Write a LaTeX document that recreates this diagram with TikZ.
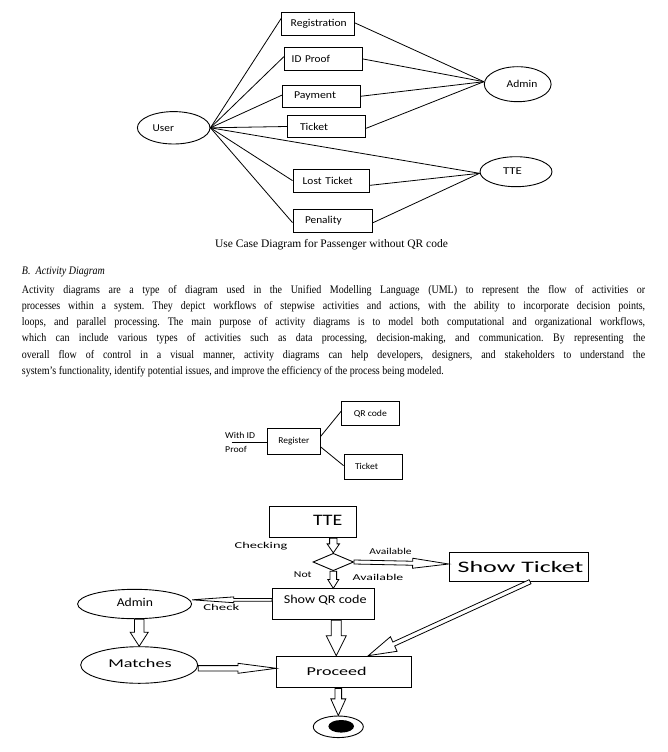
\documentclass[tikz,border=0pt]{standalone}
\usepackage{fontspec}
\usepackage{graphicx}
\setmainfont{Liberation Serif}
\newfontfamily\dfont{Carlito}
\usetikzlibrary{calc,shapes.geometric}
\frenchspacing
\newcommand\fw[2]{\resizebox{#1pt}{\height}{#2}}
\newcommand\pline[1]{\scalebox{0.87}[1]{\makebox[716.4pt][s]{#1}}}
% block arrow: #1 start, #2 end, #3 shaft half width, #4 head half width, #5 head length
\newcommand\barrow[5]{%
  \coordinate (bah) at ($(#2)!#5pt!(#1)$);
  \draw[blockarrow] ($(#1)!#3pt!90:(#2)$) -- ($(bah)!#3pt!90:(#2)$) -- ($(bah)!#4pt!90:(#2)$) -- (#2)
    -- ($(bah)!#4pt!-90:(#2)$) -- ($(bah)!#3pt!-90:(#2)$) -- ($(#1)!#3pt!-90:(#2)$) -- cycle;}
\begin{document}
\begin{tikzpicture}[x=1pt,y=-1pt,
 uline/.style={line width=0.8pt, draw=black},
 ubox/.style={draw=black, line width=0.9pt, inner ysep=0pt, align=left, font=\dfont\fontsize{10.5}{12}\selectfont},
 uell/.style={draw=black, line width=0.9pt, ellipse, inner sep=0pt},
 utext/.style={inner sep=0pt, font=\dfont\fontsize{10.5}{12}\selectfont},
 mbox/.style={draw=black, line width=0.8pt, inner sep=0pt, font=\dfont\fontsize{9}{11}\selectfont},
 mtext/.style={inner sep=0pt, font=\dfont\fontsize{9}{11}\selectfont},
 bbox/.style={draw=black, line width=0.9pt, inner sep=0pt},
 btext/.style={inner sep=0pt, font=\dfont\fontsize{12}{14}\selectfont},
 bsmall/.style={inner sep=0pt, font=\dfont\fontsize{9}{11}\selectfont},
 bbig/.style={inner sep=0pt, font=\dfont\fontsize{16}{19}\selectfont},
 blockarrow/.style={draw=black, fill=white, line width=0.8pt, line join=miter},
]
\useasboundingbox (0,0) rectangle (668,752);
\fill[white] (0,0) rectangle (668,752);

% ---------- Use case diagram ----------
\node[uell, minimum width=72.6, minimum height=32.4] (user) at (173.7,127.8) {};
\node[utext] (userT) at (163.3,127.8) {\fw{21.3}{User}};
\node[uell, minimum width=66.8, minimum height=35] (admU) at (517.7,84.2) {};
\node[utext] (admUT) at (522,84) {\fw{30.7}{Admin}};
\node[uell, minimum width=72, minimum height=30] (tteU) at (516,171.7) {};
\node[utext] (tteUT) at (512.5,171) {\fw{19}{TTE}};

\node[ubox, minimum height=22.6, text width=54.3pt, inner xsep=9pt] (reg) at (317.85,24) {\fw{56}{Registration}};
\node[ubox, minimum height=22.6, text width=63.6pt, inner xsep=7.4pt] (idp) at (323.5,59) {\fw{38.3}{ID Proof}};
\node[ubox, minimum height=22, text width=54.7pt, inner xsep=11.3pt] (pay) at (321.35,96.3) {\fw{42}{Payment}};
\node[ubox, minimum height=21.6, text width=53pt, inner xsep=12.7pt] (tkt) at (326.5,126.5) {\fw{28}{Ticket}};
\node[ubox, minimum height=22.7, text width=56.9pt, inner xsep=9.7pt] (lost) at (331.15,180.65) {\fw{50}{Lost Ticket}};
\node[ubox, minimum height=22.7, text width=55.7pt, inner xsep=12pt] (pen) at (332.85,220.65) {\fw{36.7}{Penality}};

\draw[uline] (user.east) -- ($(reg.west)+(0,-5.7)$);
\draw[uline] (user.east) -- ($(idp.west)+(0,-2.3)$);
\draw[uline] (user.east) -- ($(pay.west)+(0,-1.3)$);
\draw[uline] (user.east) -- (tkt.west);
\draw[uline] (user.east) -- ($(tteU.west)+(0,1.6)$);
\draw[uline] (user.east) -- (lost.west);
\draw[uline] (user.east) -- ($(pen.west)+(0,2)$);

\draw[uline] ($(reg.east)+(0,-1.3)$) -- ($(admU.west)+(0,-2.5)$);
\draw[uline] (idp.east) -- ($(admU.west)+(0,-2.5)$);
\draw[uline] (pay.east) -- ($(admU.west)+(0,-2.5)$);
\draw[uline] ($(tkt.east)+(0,1.8)$) -- ($(admU.west)+(0,-2.5)$);
\draw[uline] ($(lost.east)+(0,4.7)$) -- ($(tteU.west)+(0,1.6)$);
\draw[uline] ($(pen.east)+(0,2)$) -- ($(tteU.west)+(0,1.6)$);

\node[font=\fontsize{11.5}{13}\selectfont, inner sep=0pt] (cap) at (331.5,245) {Use Case Diagram for Passenger without QR code};

% ---------- Text ----------
\node[anchor=base west, inner sep=0pt, font=\fontsize{11.5}{16.2}\selectfont] (head) at (21.7,274) {\scalebox{0.87}[1]{\textit{B.\hspace{6pt}Activity Diagram}}};
\node[anchor=north west, inner sep=0pt, align=left, font=\fontsize{11.5}{16.2}\selectfont] (para) at (21.7,285) {%
\pline{Activity diagrams are a type of diagram used in the Unified Modelling Language (UML) to represent the flow of activities or}\\
\pline{processes within a system. They depict workflows of stepwise activities and actions, with the ability to incorporate decision points,}\\
\pline{loops, and parallel processing. The main purpose of activity diagrams is to model both computational and organizational workflows,}\\
\pline{which can include various types of activities such as data processing, decision-making, and communication. By representing the}\\
\pline{overall flow of control in a visual manner, activity diagrams can help developers, designers, and stakeholders to understand the}\\
\scalebox{0.87}[1]{system's functionality, identify potential issues, and improve the efficiency of the process being modeled.}};

% ---------- Register diagram ----------
\node[mbox, minimum width=57.3, minimum height=24] (qr) at (370.35,413.7) {\fw{33}{QR code}};
\node[mbox, minimum width=52.3, minimum height=26] (rg) at (293.85,441.3) {\fw{31}{Register}};
\node[mbox, minimum width=58.3, minimum height=24.7] (tk2) at (373.15,466.65) {};
\node[mtext] (tk2T) at (366.5,466) {\fw{23}{Ticket}};
\node[mtext, anchor=west] (wid) at (225,435) {\fw{30}{With ID}};
\node[mtext, anchor=west] (prf) at (225,449) {\fw{21.7}{Proof}};
\coordinate (widend) at (231.7,442.3);
\draw[uline] (widend) -- (widend -| rg.west);
\draw[uline] ($(rg.east)+(0,-4.6)$) -- ($(qr.west)+(0,-2.7)$);
\draw[uline] ($(rg.east)+(0,5.4)$) -- ($(tk2.west)+(0,-1)$);

% ---------- Activity diagram ----------
\node[bbox, minimum width=87.8, minimum height=31.7] (tte) at (312.9,522) {};
\node[bbig] (tteT) at (327.7,520.7) {\fw{29.4}{TTE}};
\node[bsmall] (chk) at (261,546.5) {\fw{52.7}{Checking}};
\node[draw=black, line width=0.9pt, diamond, minimum width=40.6, minimum height=17.4, inner sep=0pt] (dia) at (333.3,562) {};
\node[bsmall] (av1) at (390.5,551.5) {\fw{42.3}{Available}};
\node[bsmall] (av2) at (378,577.3) {\fw{50.7}{Available}};
\node[bsmall] (nt) at (302.8,574.5) {\fw{17.7}{Not}};
\node[bbox, minimum width=139.5, minimum height=28.6] (st) at (518.85,567) {};
\node[bbig] (stT) at (520.5,567) {\fw{125.7}{Show Ticket}};
\node[bbox, minimum width=101.5, minimum height=31] (qrb) at (323.25,604.3) {};
\node[btext] (qrbT) at (325.2,599.9) {\fw{82.7}{Show QR code}};
\node[uell, minimum width=114, minimum height=29.4] (adm) at (134.6,604) {};
\node[btext] (admT) at (134.9,602.6) {\fw{36.2}{Admin}};
\node[bsmall] (chkT) at (221.3,607.7) {\fw{36}{Check}};
\node[uell, minimum width=117, minimum height=36.6] (mat) at (139.2,665) {};
\node[btext] (matT) at (140,663.3) {\fw{63.4}{Matches}};
\node[bbox, minimum width=134.5, minimum height=31.8] (pro) at (344,672) {};
\node[btext] (proT) at (336.7,671) {\fw{60}{Proceed}};
\node[uell, minimum width=50, minimum height=21.6] (fin) at (338.3,726.8) {};
\node[ellipse, fill=black, minimum width=25.6, minimum height=12.6, inner sep=0pt] (finin) at (341.2,726.3) {};

\coordinate (a1s) at (dia.north |- tte.south);
\barrow{a1s}{dia.north}{3.7}{6.2}{9}
\coordinate (a2e) at ($(st.west)+(0,-3)$);
\barrow{dia.east}{a2e}{2}{5}{36}
\coordinate (a3e) at (dia.south |- qrb.north);
\barrow{dia.south}{a3e}{3.3}{5.5}{8.8}
\coordinate (a4s) at ($(qrb.west)+(0,-4.5)$);
\coordinate (a4e) at ($(adm.east)+(0,-4.2)$);
\barrow{a4s}{a4e}{1.4}{2.9}{41.6}
\coordinate (a5s) at (mat.north |- adm.south);
\barrow{a5s}{mat.north}{4.7}{9}{14}
\coordinate (a6s) at ($(mat.east)+(0,3.3)$);
\coordinate (a6e) at (pro.west |- a6s);
\barrow{a6s}{a6e}{2.7}{5}{38.3}
\coordinate (a7s) at ($(qrb.south)+(13,0)$);
\coordinate (a7e) at (a7s |- pro.north);
\barrow{a7s}{a7e}{5}{10}{20}
\coordinate (a8s) at (fin.north |- pro.south);
\barrow{a8s}{fin.north}{3.3}{7.5}{16.7}
\coordinate (a9s) at ($(st.south)+(11.2,0)$);
\coordinate (a9e) at ($(pro.north)+(24.3,0)$);
\barrow{a9s}{a9e}{2.2}{8}{28}
\end{tikzpicture}
\end{document}
